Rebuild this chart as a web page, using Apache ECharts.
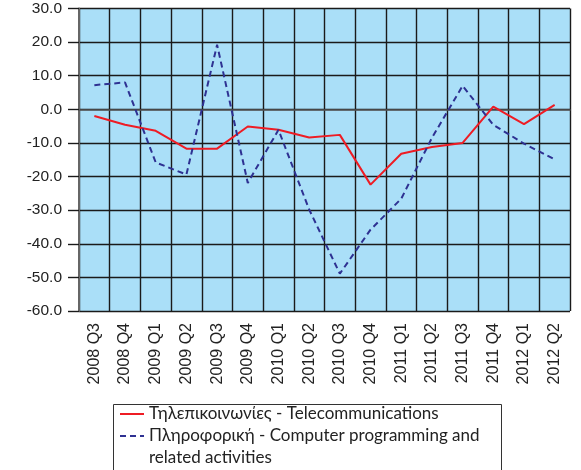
<!DOCTYPE html>
<html>
<head>
<meta charset="utf-8">
<script src="https://cdn.jsdelivr.net/npm/echarts@6/dist/echarts.min.js"></script>
<style>
  html, body { margin: 0; padding: 0; background: #ffffff; }
  #chart { width: 581px; height: 470px; }
</style>
</head>
<body>
<div id="chart"></div>
<script>
// Quarterly change (%) by sector
const quarters = [
  '2008 Q3', '2008 Q4', '2009 Q1', '2009 Q2', '2009 Q3', '2009 Q4',
  '2010 Q1', '2010 Q2', '2010 Q3', '2010 Q4', '2011 Q1', '2011 Q2',
  '2011 Q3', '2011 Q4', '2012 Q1', '2012 Q2'
];
const telecom = [-2.0, -4.6, -6.4, -11.7, -11.7, -5.1, -6.1, -8.4, -7.6, -22.4, -13.2, -11.2, -10.0, 0.8, -4.4, 1.3];
const computing = [7.2, 8.0, -15.8, -19.4, 19.2, -21.9, -6.1, -29.8, -48.9, -35.8, -26.6, -8.5, 7.0, -4.6, -10.2, -14.9];

const telecomName = 'Τηλεπικοινωνίες - Telecommunications';
const computingName = 'Πληροφορική - Computer programming and';
const computingNameCont = 'related activities';

const yMin = -60, yMax = 30, yStep = 10;

const gridLine = { color: '#1a1a1a', width: 1.4 };

const chart = echarts.init(document.getElementById('chart'), null, { renderer: 'canvas' });

chart.setOption({
  animation: false,
  backgroundColor: '#ffffff',
  grid: {
    left: 79, right: 11, top: 8.5, bottom: 159,
    show: true,
    backgroundColor: '#aadff8',
    borderWidth: 0
  },
  xAxis: {
    type: 'category',
    data: quarters,
    boundaryGap: true,
    axisLine: { show: true, lineStyle: { color: '#555', width: 1.5 } },
    axisTick: { show: false },
    axisLabel: {
      rotate: 90,
      interval: 0,
      margin: 12,
      fontFamily: 'Liberation Sans',
      fontSize: 16,
      color: '#222'
    },
    splitLine: { show: true, interval: 0, lineStyle: gridLine }
  },
  yAxis: {
    type: 'value',
    min: yMin, max: yMax, interval: yStep,
    axisLine: { show: true, lineStyle: { color: '#666', width: 2 } },
    axisTick: { show: true, inside: false, length: 11, lineStyle: { color: '#1a1a1a', width: 1.4 } },
    axisLabel: {
      margin: 17,
      fontFamily: 'Liberation Sans',
      fontSize: 15.5,
      color: '#222',
      formatter: v => v.toFixed(1)
    },
    splitLine: { show: true, lineStyle: gridLine }
  },
  legend: {
    orient: 'vertical',
    left: 119,
    top: 403,
    padding: 0,
    itemGap: 0,
    itemWidth: 24,
    itemHeight: 14,
    itemStyle: { opacity: 0 },
    textStyle: { fontFamily: 'Lato', fontSize: 17, lineHeight: 22, color: '#222' },
    data: [telecomName, computingName]
  },
  graphic: [
    {
      type: 'rect',
      shape: { x: 113.5, y: 404.5, width: 388, height: 80 },
      style: { fill: 'none', stroke: '#333', lineWidth: 1 },
      silent: true
    },
    {
      type: 'text',
      x: 149, y: 458,
      style: { text: computingNameCont, verticalAlign: 'middle', fill: '#222', font: '17px Lato' },
      silent: true
    }
  ],
  series: [
    {
      name: telecomName,
      type: 'line',
      data: telecom,
      symbol: 'none',
      lineStyle: { color: '#ee1c24', width: 2 },
      itemStyle: { color: '#ee1c24' },
      z: 3
    },
    {
      name: computingName,
      type: 'line',
      data: computing,
      symbol: 'none',
      lineStyle: { color: '#2e3192', width: 2, type: [6, 4] },
      itemStyle: { color: '#2e3192' },
      z: 4
    }
  ]
});
</script>
</body>
</html>
